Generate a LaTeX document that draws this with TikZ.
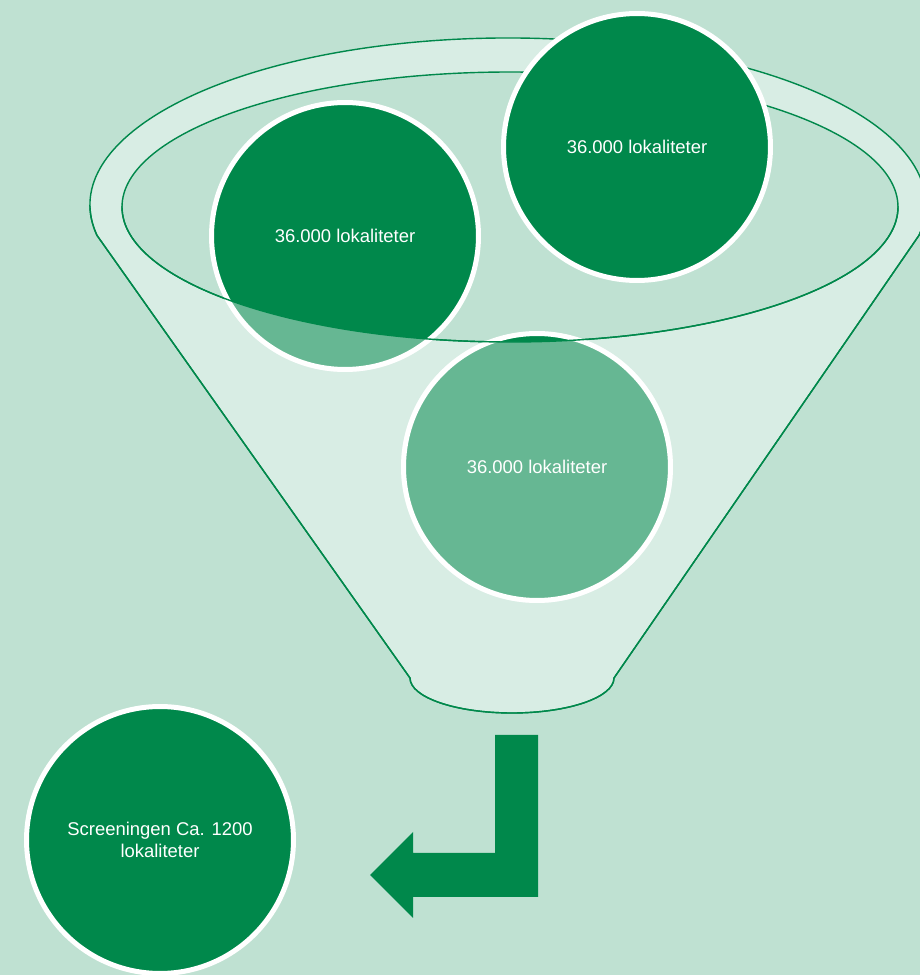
\documentclass[tikz,border=0pt]{standalone}
\usepackage{fontspec}
\setmainfont{Liberation Sans}
\usepackage{tikz}
\usetikzlibrary{positioning}

\definecolor{funnelgreen}{HTML}{00884B}
\definecolor{meadow}{HTML}{BFE1D2}

% outline of the funnel (rim on top, spout at the bottom)
\newcommand{\funnelshape}{(97,739.6) arc[start angle=190.5, end angle=-10.5, x radius=418, y radius=167]
  -- (614,297) arc[start angle=0, end angle=-180, x radius=102, y radius=35] -- cycle}
\newcommand{\funnelmouth}{(510,768) ellipse[x radius=388, y radius=135]}

\begin{document}
\begin{tikzpicture}[
  x=0.02cm, y=0.02cm,
  spot/.style={
    circle, draw=white, line width=0.1cm,
    fill=funnelgreen, text=white,
    minimum size=5.34cm, align=center,
    font=\fontsize{10.5}{12.6}\selectfont
  },
  rim/.style={draw=funnelgreen, line width=0.8pt},
  glass/.style={fill=white, fill opacity=0.4, even odd rule}
]

% Background
\useasboundingbox (0,0) rectangle (920,975);
\clip (0,0) rectangle (920,975);
\fill[meadow] (0,0) rectangle (920,975);

% Funnel body
\fill[meadow!60!white, even odd rule] \funnelshape \funnelmouth;
\draw[rim] \funnelshape;
\draw[rim] \funnelmouth;

% Nodes
\node[spot] (Lokalitet_1) at (345,739) {36.000 lokaliteter};
\node[spot] (Lokalitet_2) at (637,828) {36.000 lokaliteter};
\node[spot] (Lokalitet_3) at (537,508) {36.000 lokaliteter};

% Front of the funnel over the circles
\begin{scope}
  \clip (0,0) rectangle (920,768);
  \begin{scope}
    \clip (Lokalitet_1.center) circle[radius=136] (Lokalitet_3.center) circle[radius=136];
    \fill[glass] \funnelshape \funnelmouth;
  \end{scope}
  \draw[rim] \funnelshape;
  \draw[rim] \funnelmouth;
\end{scope}

\node[spot] (Screening_1) at (160,135) {Screeningen Ca. 1200\\lokaliteter};

% Arrow out of the spout
\fill[funnelgreen] (495,240) -- (538,240) -- (538,78) -- (413,78) -- (413,57)
  -- (370,100) -- (413,143) -- (413,122) -- (495,122) -- cycle;

\end{tikzpicture}
\end{document}
